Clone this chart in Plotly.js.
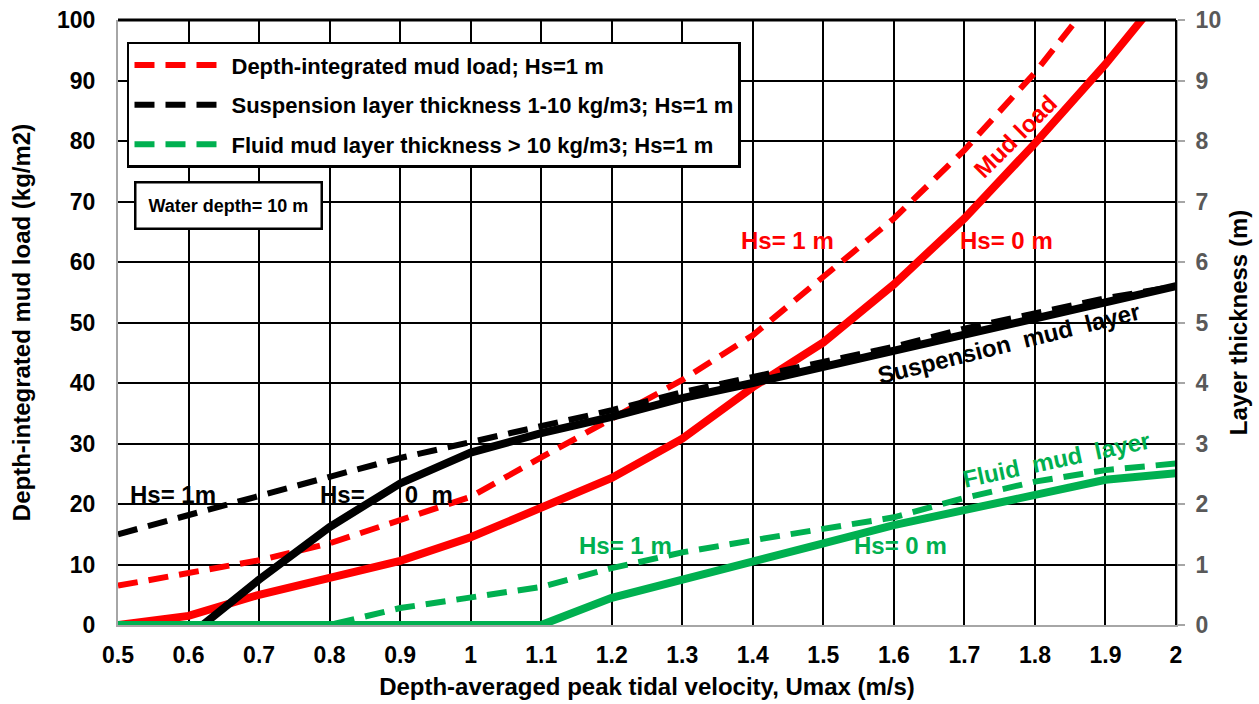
<!DOCTYPE html>
<html>
<head>
<meta charset="utf-8">
<script src="https://cdn.plot.ly/plotly-3.0.1.min.js"></script>
<style>html,body{margin:0;padding:0;background:#fff;}#chart{width:1259px;height:704px;}</style>
</head>
<body>
<div id="chart"></div>
<script>
// Velocity (m/s)
const uRedSolid   = [0.5, 0.6, 0.7, 0.8, 0.9, 1.0, 1.1, 1.2, 1.3, 1.4, 1.5, 1.6, 1.7, 1.8, 1.9, 2.0];
const mudLoadHs0  = [0, 1.5, 5, 7.7, 10.6, 14.5, 19.3, 24.3, 30.8, 39.3, 46.7, 56.3, 67.2, 79.6, 92.7, 107];
const uRedDash    = [0.5, 0.6, 0.7, 0.8, 0.9, 1.0, 1.1, 1.2, 1.3, 1.4, 1.5, 1.6, 1.7, 1.8, 1.9];
const mudLoadHs1  = [6.5, 8.7, 10.7, 13.5, 17.4, 21.2, 27.7, 34.0, 40.5, 47.9, 57.5, 67.2, 78.5, 91.3, 106];

// Suspension layer thickness (m), right axis
const uSusp0      = [0.62, 0.7, 0.8, 0.9, 1.0, 1.1, 1.2, 1.3, 1.4, 1.5, 1.6, 1.7, 1.8, 1.9, 2.0];
const suspHs0     = [0, 0.75, 1.62, 2.34, 2.85, 3.17, 3.44, 3.75, 4.0, 4.27, 4.54, 4.81, 5.08, 5.35, 5.6];
const uSusp1      = [0.5, 0.6, 0.7, 0.8, 0.9, 1.0, 1.1, 1.2, 1.3, 1.4, 1.5, 1.6, 1.7, 1.8, 1.9, 2.0];
const suspHs1     = [1.5, 1.82, 2.15, 2.45, 2.76, 3.03, 3.3, 3.55, 3.85, 4.1, 4.35, 4.6, 4.9, 5.15, 5.4, 5.6];

// Fluid mud layer thickness (m), right axis
const uFluid0     = [0.5, 0.6, 0.7, 0.8, 0.9, 1.0, 1.1, 1.2, 1.3, 1.4, 1.5, 1.6, 1.7, 1.8, 1.9, 2.0];
const fluidHs0    = [0, 0, 0, 0, 0, 0, 0, 0.45, 0.74, 1.04, 1.35, 1.65, 1.9, 2.15, 2.4, 2.51];
const uFluid1     = [0.5, 0.6, 0.7, 0.8, 0.9, 1.0, 1.1, 1.2, 1.3, 1.4, 1.5, 1.6, 1.7, 1.8, 1.9, 2.0];
const fluidHs1    = [0, 0, 0, 0, 0.28, 0.45, 0.63, 0.94, 1.2, 1.4, 1.6, 1.78, 2.1, 2.37, 2.56, 2.67];

const xTickVals   = [0.5, 0.6, 0.7, 0.8, 0.9, 1.0, 1.1, 1.2, 1.3, 1.4, 1.5, 1.6, 1.7, 1.8, 1.9, 2.0];
const xTickText   = ['0.5','0.6','0.7','0.8','0.9','1','1.1','1.2','1.3','1.4','1.5','1.6','1.7','1.8','1.9','2'];

const RED = '#ff0000', BLACK = '#000000', GREEN = '#00b050';
const FONT = 'Liberation Sans, Arial, sans-serif';
const dash = '20px,11px';

const traces = [
  {x: uRedDash, y: mudLoadHs1, yaxis: 'y', mode: 'lines', name: 'Depth-integrated mud load; Hs=1 m',
   legendgroup: 'a', line: {color: RED, width: 6, dash: dash}},
  {x: uSusp1, y: suspHs1, yaxis: 'y2', mode: 'lines', name: 'Suspension layer thickness 1-10 kg/m3; Hs=1 m',
   legendgroup: 'b', line: {color: BLACK, width: 6, dash: dash}},
  {x: uFluid1, y: fluidHs1, yaxis: 'y2', mode: 'lines', name: 'Fluid mud layer thickness > 10 kg/m3; Hs=1 m',
   legendgroup: 'c', line: {color: GREEN, width: 6, dash: dash}},
  {x: uRedSolid, y: mudLoadHs0, yaxis: 'y', mode: 'lines', name: 'Mud load Hs=0', showlegend: false,
   line: {color: RED, width: 8}},
  {x: uSusp0, y: suspHs0, yaxis: 'y2', mode: 'lines', name: 'Suspension Hs=0', showlegend: false,
   line: {color: BLACK, width: 8}},
  {x: uFluid0, y: fluidHs0, yaxis: 'y2', mode: 'lines', name: 'Fluid mud Hs=0', showlegend: false,
   line: {color: GREEN, width: 8}, cliponaxis: false}
];

function ann(text, x, y, color, opts) {
  return Object.assign({text: text, x: x, y: y, xref: 'x', yref: 'y', showarrow: false,
    font: {family: FONT, size: 24, color: color, weight: 'bold'}}, opts || {});
}

const layout = {
  width: 1259, height: 704,
  margin: {l: 118, r: 83, t: 20, b: 79},
  paper_bgcolor: '#ffffff', plot_bgcolor: '#ffffff',
  font: {family: FONT, size: 22, color: '#000', weight: 'bold'},
  showlegend: true,
  legend: {x: 0.0085, y: 0.964, xanchor: 'left', yanchor: 'top', bgcolor: '#ffffff',
    bordercolor: '#000', borderwidth: 2.5, font: {family: FONT, size: 22, color: '#000', weight: 'bold'},
    tracegroupgap: 8, traceorder: 'grouped', itemwidth: 92},
  xaxis: {range: [0.5, 2.0], tickvals: xTickVals, ticktext: xTickText, showgrid: true,
    gridcolor: '#000', gridwidth: 2, zeroline: false, showline: true, linecolor: '#a6a6a6', linewidth: 2,
    ticks: '', ticklabelstandoff: 8, tickfont: {family: FONT, size: 23, color: '#000', weight: 'bold'},
    title: {text: 'Depth-averaged peak tidal velocity, Umax (m/s)', standoff: 12,
      font: {family: FONT, size: 24, color: '#000', weight: 'bold'}}},
  yaxis: {range: [0, 100], dtick: 10, showgrid: true, gridcolor: '#000', gridwidth: 2, zeroline: false,
    showline: true, linecolor: '#a6a6a6', linewidth: 2, ticks: '', ticklabelstandoff: 16,
    tickfont: {family: FONT, size: 23, color: '#000', weight: 'bold'},
    title: {text: 'Depth-integrated mud load (kg/m2)', standoff: 20,
      font: {family: FONT, size: 24, color: '#000', weight: 'bold'}}},
  yaxis2: {range: [0, 10], dtick: 1, overlaying: 'y', side: 'right', showgrid: false, zeroline: false,
    showline: true, linecolor: '#a6a6a6', linewidth: 2, ticks: 'outside', ticklen: 7, tickwidth: 2,
    ticklabelstandoff: 6,
    tickcolor: '#a6a6a6', tickfont: {family: FONT, size: 23, color: '#595959', weight: 'bold'},
    title: {text: 'Layer thickness (m)', standoff: 10,
      font: {family: FONT, size: 24, color: '#000', weight: 'bold'}}},
  shapes: [
    {type: 'line', xref: 'paper', yref: 'paper', x0: 0, x1: 1, y0: 1, y1: 1, line: {color: '#000', width: 3}},
    {type: 'line', xref: 'paper', yref: 'paper', x0: 1, x1: 1, y0: 0, y1: 1, line: {color: '#000', width: 2}}
  ],
  annotations: [
    ann('Hs= 1m', 0.514, 21.6, BLACK, {xanchor: 'left'}),
    ann('Hs=\u00a0\u00a0\u00a0\u00a0\u00a0\u00a00\u00a0\u00a0m', 0.784, 21.6, BLACK, {xanchor: 'left'}),
    ann('Hs= 1 m', 1.449, 63.5, RED),
    ann('Hs= 0 m', 1.760, 63.5, RED),
    ann('Hs= 1 m', 1.220, 13.1, GREEN),
    ann('Hs= 0 m', 1.609, 13.1, GREEN),
    ann('Suspension\u00a0 mud\u00a0 layer', 1.762, 46.6, BLACK, {textangle: -14}),
    ann('Fluid\u00a0 mud\u00a0 layer', 1.831, 27.4, GREEN, {textangle: -12}),
    ann('Mud load', 1.772, 80.7, RED, {textangle: -45}),
    {text: 'Water depth= 10 m', xref: 'paper', yref: 'paper', x: (134 - 118) / 1058, y: (625 - 181) / 605,
     xanchor: 'left', yanchor: 'top', showarrow: false, bgcolor: '#ffffff', bordercolor: '#000',
     borderwidth: 2.5, borderpad: 12, font: {family: FONT, size: 18, color: '#000', weight: 'bold'}}
  ]
};

Plotly.newPlot('chart', traces, layout, {displayModeBar: false, staticPlot: true});
</script>
</body>
</html>
